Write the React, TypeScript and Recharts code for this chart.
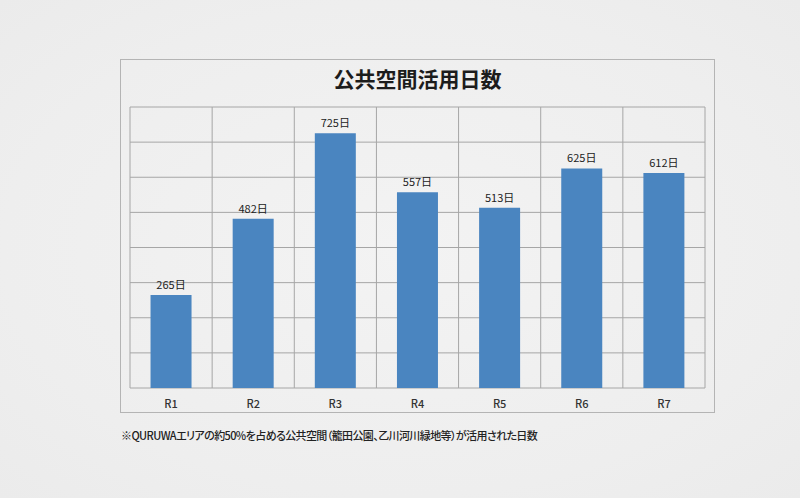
import React from "react";
import {
  BarChart,
  Bar,
  XAxis,
  YAxis,
  CartesianGrid,
  LabelList,
} from "recharts";

// 公共空間活用日数 (R1〜R7)
const categories = ["R1", "R2", "R3", "R4", "R5", "R6", "R7"];
const days = [265, 482, 725, 557, 513, 625, 612];
const yTicks = [0, 100, 200, 300, 400, 500, 600, 700, 800];

const data = categories.map((name, i) => ({ name, days: days[i] }));

const FONT = "'Noto Sans CJK JP', 'Noto Sans', sans-serif";

const App = () => {
  return (
    <div
      style={{
        position: "absolute",
        left: 0,
        top: 0,
        width: 800,
        height: 498,
        overflow: "hidden",
        fontFamily: FONT,
        background: "radial-gradient(ellipse at center, #f3f3f3 0%, #eeeeee 70%, #ebebeb 100%)",
      }}>
      {/* outer frame */}
      <div
        style={{
          position: "absolute",
          left: 120,
          top: 59,
          width: 595,
          height: 354,
          border: "1px solid #b4b4b4",
          boxSizing: "border-box",
        }}
      />
      <div
        style={{
          position: "absolute",
          left: 120,
          top: 63,
          width: 595,
          textAlign: "center",
          fontSize: 21,
          fontWeight: 700,
          color: "#1c1c1c",
        }}>
        公共空間活用日数
      </div>

      <div style={{ position: "absolute", left: 0, top: 0 }}>
        <BarChart
          width={800}
          height={498}
          data={data}
          barCategoryGap='25%'
          margin={{ top: 107, right: 95, left: 130, bottom: 80 }}>
          <CartesianGrid
            stroke='#a6a6a6'
            strokeWidth={1}
            verticalCoordinatesGenerator={({ offset }: any) =>
              Array.from(
                { length: categories.length + 1 },
                (_, i) => offset.left + (i * offset.width) / categories.length
              )
            }
          />
          <XAxis
            dataKey='name'
            axisLine={false}
            tickLine={false}
            tickMargin={6}
            tick={{ fill: "#333", fontSize: 11, fontWeight: 500, fontFamily: FONT }}
          />
          <YAxis hide domain={[0, 800]} ticks={yTicks} />
          <Bar dataKey='days' fill='#4a85c0' isAnimationActive={false}>
            <LabelList
              dataKey='days'
              position='top'
              offset={6}
              formatter={(v: any) => `${v}日`}
              style={{ fill: "#222", fontSize: 11, fontFamily: FONT }}
            />
          </Bar>
        </BarChart>
      </div>

      {/* footnote */}
      <div
        style={{
          position: "absolute",
          left: 121,
          top: 427,
          fontSize: 11,
          fontWeight: 500,
          color: "#222",
          whiteSpace: "nowrap",
          letterSpacing: -0.6,
          fontFeatureSettings: "'palt'",
        }}>
        ※QURUWAエリアの約50%を占める公共空間（籠田公園、乙川河川緑地等）が活用された日数
      </div>
    </div>
  );
};

export default App;
